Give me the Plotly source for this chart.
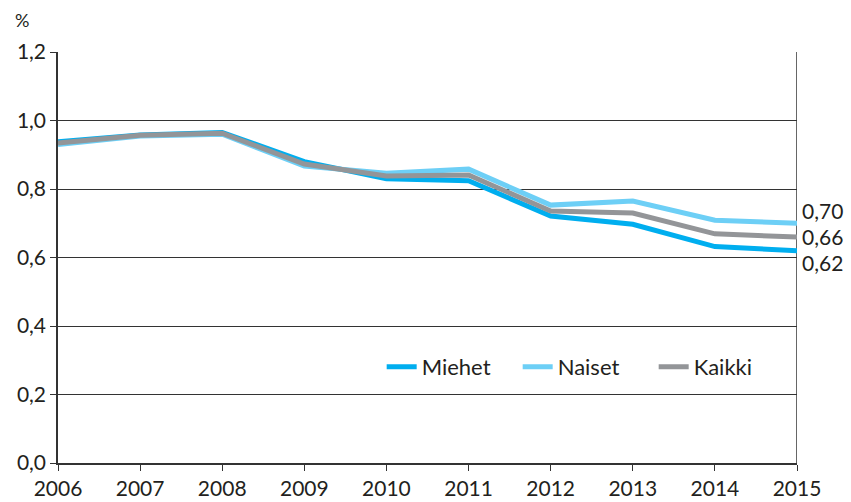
import plotly.graph_objects as go

years = [2006, 2007, 2008, 2009, 2010, 2011, 2012, 2013, 2014, 2015]
miehet = [0.938, 0.958, 0.965, 0.880, 0.830, 0.824, 0.721, 0.697, 0.632, 0.620]
naiset = [0.930, 0.955, 0.960, 0.867, 0.846, 0.858, 0.753, 0.765, 0.709, 0.700]
kaikki = [0.934, 0.957, 0.963, 0.873, 0.838, 0.841, 0.736, 0.730, 0.669, 0.660]
end_labels = ["0,70", "0,66", "0,62"]
end_values = [0.70, 0.66, 0.62]
y_ticks = [0.0, 0.2, 0.4, 0.6, 0.8, 1.0, 1.2]

FONT = "Lato, Open Sans, DejaVu Sans, sans-serif"
TXT = "#231f20"
FS = 21

fig = go.Figure()
series = [
    ("Miehet", miehet, "#00aeef"),
    ("Naiset", naiset, "#6dcff6"),
    ("Kaikki", kaikki, "#939598"),
]
for name, vals, col in series:
    fig.add_trace(go.Scatter(x=years, y=vals, name=name, mode="lines",
                             line=dict(color=col, width=5), hoverinfo="skip"))

shifts = [13, 0, -12]
for lab, v, s in zip(end_labels, end_values, shifts):
    fig.add_annotation(x=2015, y=v, xref="x", yref="y", text=lab, showarrow=False,
                       xanchor="left", yanchor="middle", xshift=3, yshift=s,
                       font=dict(size=FS, color=TXT, family=FONT))

fig.add_annotation(xref="paper", yref="paper", x=-0.0487, y=1.078, text="%",
                   showarrow=False, xanchor="center", yanchor="middle",
                   font=dict(size=18, color=TXT, family=FONT))

fig.update_layout(
    template="none",
    width=851, height=502,
    margin=dict(l=58, r=54, t=52, b=39, autoexpand=False),
    paper_bgcolor="white", plot_bgcolor="white",
    separators=", ",
    font=dict(family=FONT, size=FS, color=TXT),
    showlegend=True,
    legend=dict(orientation="h", x=0.438, y=0.234, xanchor="left", yanchor="middle",
                bgcolor="rgba(0,0,0,0)", font=dict(size=22, color=TXT, family=FONT),
                entrywidth=91, entrywidthmode="pixels",
                traceorder="normal"),
    xaxis=dict(range=[2006, 2015], tickmode="array", tickvals=years,
               ticktext=[str(y) for y in years], showgrid=False, automargin=False,
               showline=True, linecolor="#333333", linewidth=1.5,
               ticks="outside", ticklen=6, tickcolor="#333333", zeroline=False,
               tickfont=dict(size=FS)),
    yaxis=dict(range=[0, 1.2], tickmode="array", tickvals=y_ticks, tickformat=".1f",
               showgrid=True, gridcolor="#333333", gridwidth=1, automargin=False,
               showline=True, linecolor="#333333", linewidth=1.5,
               ticks="outside", ticklen=6, tickcolor="#333333", zeroline=False,
               tickfont=dict(size=FS)),
)
fig.add_shape(type="line", xref="x", yref="y", x0=2015, x1=2015, y0=0, y1=1.2,
              line=dict(color="#333333", width=1.5), layer="below")

fig.write_html("out.html", config={"displayModeBar": False},
               post_script="document.body.style.margin='0';document.body.style.padding='0';document.body.style.overflow='hidden';")
